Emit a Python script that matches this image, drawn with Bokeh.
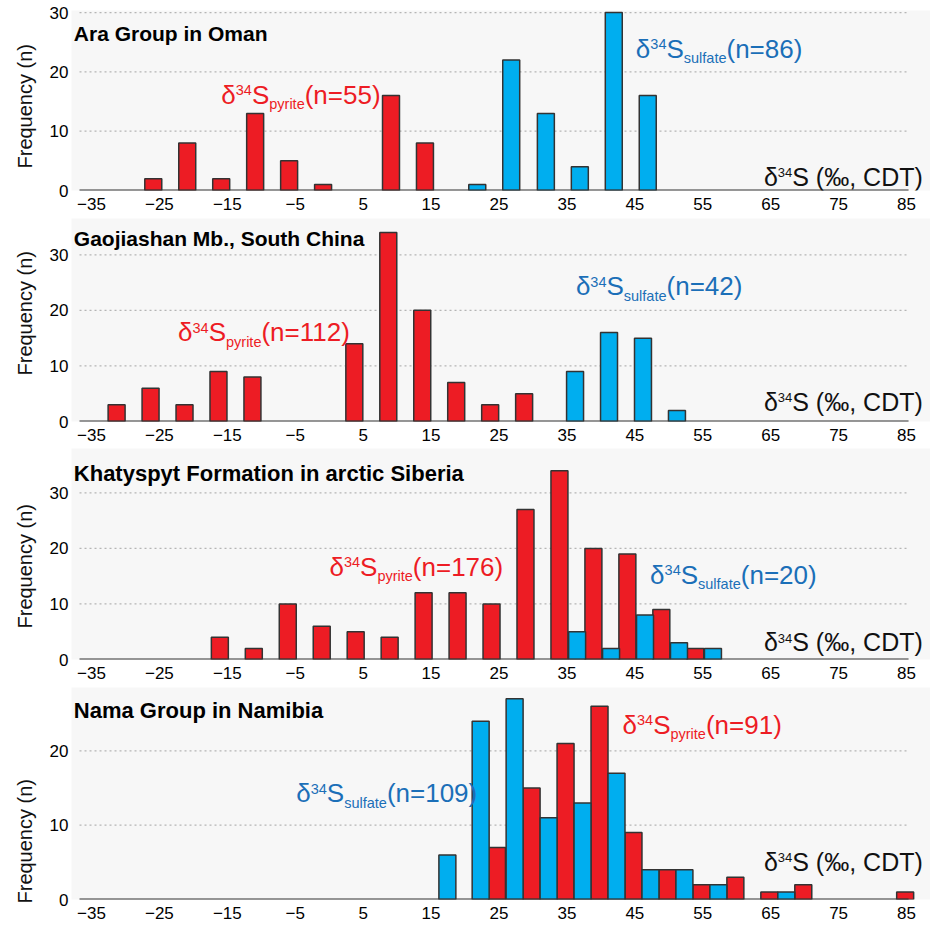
import math
from bokeh.plotting import figure
from bokeh.layouts import column
from bokeh.models import Title, FixedTicker, Range1d, CustomJSTickFormatter
from bokeh.core.properties import value
from bokeh.embed import file_html
from bokeh.resources import INLINE

FONT = "Liberation Sans"
RED = "#ed1c24"
BLUE = "#00aeef"
RED_TXT = "#ed1c24"
BLUE_TXT = "#1b6fb8"
OUTLINE = "#333333"
BG = "#f7f7f7"

# ---------------- data ----------------
x_ticks = [-35, -25, -15, -5, 5, 15, 25, 35, 45, 55, 65, 75, 85]

titles = ["Ara Group in Oman", "Gaojiashan Mb., South China",
          "Khatyspyt Formation in arctic Siberia", "Nama Group in Namibia"]

# bin positions (δ34S, ‰) and counts
p1_pyrite_x = [-25.9, -20.9, -15.9, -10.9, -5.9, -0.9, 9.1, 14.1]
p1_pyrite_n = [2, 8, 2, 13, 5, 1, 16, 8]
p1_sulfate_x = [21.8, 26.8, 31.9, 36.9, 41.9, 46.9]
p1_sulfate_n = [1, 22, 13, 4, 30, 16]

p2_pyrite_x = [-31.3, -26.3, -21.3, -16.3, -11.3, 3.7, 8.7, 13.7, 18.7, 23.7, 28.7]
p2_pyrite_n = [3, 6, 3, 9, 8, 14, 34, 20, 7, 3, 5]
p2_sulfate_x = [36.2, 41.2, 46.2, 51.2]
p2_sulfate_n = [9, 16, 15, 2]

p3_pyrite_x = [-16.1, -11.1, -6.1, -1.1, 3.9, 8.9, 13.9, 18.9, 23.9, 28.9, 33.9,
               38.9, 43.9, 48.9, 53.9]
p3_pyrite_n = [4, 2, 10, 6, 5, 4, 12, 12, 10, 27, 34, 20, 19, 9, 2]
p3_sulfate_x = [36.5, 41.5, 46.5, 51.5, 56.5]
p3_sulfate_n = [5, 2, 8, 3, 2]

p4_sulfate_x = [17.4, 22.3, 27.3, 32.3, 37.3, 42.3, 47.3, 52.3, 57.3, 67.3]
p4_sulfate_n = [6, 24, 27, 11, 13, 17, 4, 4, 2, 1]
p4_pyrite_x = [24.7, 29.8, 34.8, 39.8, 44.8, 49.8, 54.8, 59.8, 64.8, 69.8, 84.8]
p4_pyrite_n = [7, 15, 21, 26, 9, 4, 2, 3, 1, 2, 1]

y_ticks = [[0, 10, 20, 30], [0, 10, 20, 30], [0, 10, 20, 30], [0, 10, 20]]

pyrite_labels = ["(n=55)", "(n=112)", "(n=176)", " (n=91)"]
sulfate_labels = ["(n=86)", "(n=42)", "(n=20)", "(n=109)"]

# ---------------- layout constants ----------------
X_START, X_END = -37.94, 88.53
GRID_X0, GRID_X1 = -36.76, 85.3
BAR_W = 2.5

# (height, border_top, border_bottom, y_end)
geom = [(215, 10, 25, 30.35), (230, 3, 24, 36.53), (238, 3, 24, 38.0), (245, 4, 29, 28.53)]

# label anchors (data coords): pyrite, sulfate, axis title, panel title y; ylabel offset px
anchors = [
    dict(pyr=(-15.88, 14.62), sul=(45.15, 22.34), axt=(64.0, 0.84), tit=25.3, yoff=22),
    dict(pyr=(-22.25, 14.4), sul=(36.32, 22.67), axt=(64.0, 1.98), tit=31.55, yoff=46),
    dict(pyr=(0.04, 15.1), sul=(47.25, 13.6), axt=(64.0, 1.6), tit=32.25, yoff=31),
    dict(pyr=(43.19, 22.3), sul=(-4.85, 13.1), axt=(64.0, 3.9), tit=24.45, yoff=-4),
]

# Arial / Liberation Sans advance widths (per 1000 em)
AW = {"δ": 556, "S": 667, "(": 333, ")": 333, "n": 556, "=": 584, " ": 278,
      "p": 556, "y": 500, "r": 333, "i": 222, "t": 278, "e": 556, "s": 500,
      "u": 556, "l": 222, "f": 278, "a": 556, "‰": 1000, ",": 278, "C": 722,
      "D": 722, "T": 611}
for d in "0123456789":
    AW[d] = 556

BASE_FIX = 0.35  # shift so the anchor acts as the alphabetic baseline


def tw(s, size):
    return sum(AW.get(c, 556) for c in s) * size / 1000.0


def rich(p, x, y, pieces, color):
    off = 0.0
    for (t, size, dy) in pieces:
        p.text(x=[x], y=[y], text=[t], x_offset=off, y_offset=dy - BASE_FIX * size,
               text_font=value(FONT), text_font_size=f"{size}px",
               text_color=color, text_align="left", text_baseline="alphabetic")
        off += tw(t, size)


def delta_label(p, x, y, sub, tail, color):
    rich(p, x, y, [("δ", 26, 0), ("34", 14.5, -8.5), ("S", 26, 0),
                   (sub, 14.5, 5.5), (tail, 26, 0)], color)


panels = [
    (p1_pyrite_x, p1_pyrite_n, p1_sulfate_x, p1_sulfate_n),
    (p2_pyrite_x, p2_pyrite_n, p2_sulfate_x, p2_sulfate_n),
    (p3_pyrite_x, p3_pyrite_n, p3_sulfate_x, p3_sulfate_n),
    (p4_pyrite_x, p4_pyrite_n, p4_sulfate_x, p4_sulfate_n),
]

figs = []
for i, (px, pn, sx, sn) in enumerate(panels):
    h, bt, bb, yend = geom[i]
    a = anchors[i]
    p = figure(width=930, height=h, output_backend="svg", toolbar_location=None,
               x_range=Range1d(X_START, X_END), y_range=Range1d(0, yend),
               min_border_left=70, min_border_right=0,
               min_border_top=bt, min_border_bottom=bb)
    p.background_fill_color = BG
    p.border_fill_color = "white"
    p.outline_line_color = None
    p.xgrid.grid_line_color = None
    p.ygrid.grid_line_color = None

    # dashed grid lines from the y ticks
    gy = [t for t in y_ticks[i] if t > 0]
    p.segment(x0=[GRID_X0] * len(gy), x1=[GRID_X1] * len(gy), y0=gy, y1=gy,
              line_color="#b5b5b5", line_width=1.2, line_dash="2 3")

    p.vbar(x=px, top=pn, bottom=0, width=BAR_W, fill_color=RED,
           line_color=OUTLINE, line_width=1.5)
    p.vbar(x=sx, top=sn, bottom=0, width=BAR_W, fill_color=BLUE,
           line_color=OUTLINE, line_width=1.5)

    # baseline
    p.segment(x0=[GRID_X0], x1=[GRID_X1], y0=[0], y1=[0],
              line_color="#333333", line_width=2)

    # axes
    p.xaxis.ticker = FixedTicker(ticks=x_ticks)
    p.xaxis.formatter = CustomJSTickFormatter(
        code="return tick < 0 ? '\u2212' + Math.abs(tick) : tick.toString();")
    p.xaxis.axis_line_color = None
    p.xaxis.major_tick_line_color = None
    p.xaxis.minor_tick_line_color = None
    p.xaxis.major_tick_out = 0
    p.xaxis.major_tick_in = 0
    p.xaxis.major_label_standoff = 7
    p.xaxis.major_label_text_font = FONT
    p.xaxis.major_label_text_font_size = "17px"
    p.xaxis.major_label_text_color = "#000000"

    p.yaxis.ticker = FixedTicker(ticks=y_ticks[i])
    p.yaxis.axis_line_color = None
    p.yaxis.major_tick_line_color = None
    p.yaxis.minor_tick_line_color = None
    p.yaxis.major_tick_out = 0
    p.yaxis.major_tick_in = 0
    p.yaxis.major_label_standoff = 3
    p.yaxis.major_label_text_font = FONT
    p.yaxis.major_label_text_font_size = "17px"
    p.yaxis.major_label_text_color = "#000000"

    p.add_layout(Title(text="Frequency (n)", align="left", offset=a["yoff"],
                       standoff=22, text_font=FONT, text_font_size="20px",
                       text_font_style="normal", text_color="#111111"), "left")

    # panel title
    p.text(x=[-37.6], y=[a["tit"]], text=[titles[i]], text_font=value(FONT),
           text_font_size="21px" if i < 2 else "22px", text_font_style="bold",
           text_color="#000000", text_align="left", text_baseline="alphabetic",
           y_offset=-BASE_FIX * 21)

    # series labels
    delta_label(p, a["pyr"][0], a["pyr"][1], "pyrite", pyrite_labels[i], RED_TXT)
    delta_label(p, a["sul"][0], a["sul"][1], "sulfate", sulfate_labels[i], BLUE_TXT)

    # axis title
    rich(p, a["axt"][0], a["axt"][1],
         [("δ", 25, 0), ("34", 13, -8), ("S (‰, CDT)", 25, 0)], "#111111")

    figs.append(p)

layout = column(*figs, spacing=0)
open("out.html", "w").write(file_html(layout, INLINE))
